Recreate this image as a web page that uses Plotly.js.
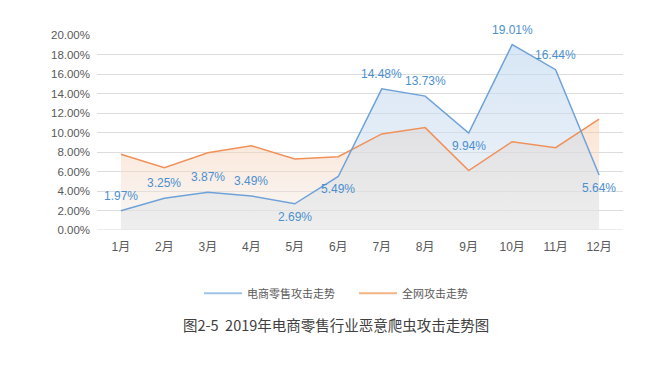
<!DOCTYPE html>
<html><head><meta charset="utf-8">
<script src="https://cdn.plot.ly/plotly-3.0.1.min.js"></script>
<style>html,body{margin:0;padding:0;background:#fff}#c{width:661px;height:368px}</style>
</head><body><div id="c"></div>
<script>
const months = ['1月','2月','3月','4月','5月','6月','7月','8月','9月','10月','11月','12月'];
const ecommerce = [1.97, 3.25, 3.87, 3.49, 2.69, 5.49, 14.48, 13.73, 9.94, 19.01, 16.44, 5.64];
const network = [7.76, 6.39, 7.93, 8.65, 7.28, 7.52, 9.85, 10.5, 6.09, 9.06, 8.44, 11.38];
const labelAbove = [true, true, true, true, false, false, true, true, false, true, true, false];
const yTicks = [0,2,4,6,8,10,12,14,16,18,20];
const seriesNames = ['电商零售攻击走势', '全网攻击走势'];

const FONT = 'Liberation Sans, Arial, Noto Sans CJK SC, sans-serif';
const CJK = 'Noto Sans CJK SC, sans-serif';

const traces = [
  { // orange fill
    x: months, y: network, type: 'scatter', mode: 'none', showlegend: false,
    fill: 'tozeroy',
    fillgradient: {type: 'vertical', start: 0, stop: 11.4,
      colorscale: [[0, 'rgba(238,238,238,0.45)'], [1, 'rgba(250,200,165,0.5)']]},
    hoverinfo: 'skip'
  },
  { // blue fill
    x: months, y: ecommerce, type: 'scatter', mode: 'none', showlegend: false,
    fill: 'tozeroy',
    fillgradient: {type: 'vertical', start: 0, stop: 19,
      colorscale: [[0, 'rgba(225,225,225,0.4)'], [0.5, 'rgba(205,222,240,0.55)'], [1, 'rgba(190,215,240,0.6)']]},
    hoverinfo: 'skip'
  },
  { x: months, y: network, type: 'scatter', mode: 'lines', showlegend: false,
    line: {color: '#f0915a', width: 1.5}, hoverinfo: 'skip' },
  { x: months, y: ecommerce, type: 'scatter', mode: 'lines', showlegend: false,
    line: {color: '#6fa2d8', width: 1.5}, hoverinfo: 'skip' },
  { x: [null], y: [null], type: 'scatter', mode: 'lines', name: seriesNames[0],
    line: {color: '#9dc3e6', width: 2}, legendrank: 1 },
  { x: [null], y: [null], type: 'scatter', mode: 'lines', name: seriesNames[1],
    line: {color: '#f4b183', width: 2}, legendrank: 2 }
];

const annotations = ecommerce.map((v, i) => ({
  x: months[i], y: v, xref: 'x', yref: 'y', text: v.toFixed(2) + '%',
  showarrow: false, xanchor: 'center', yanchor: 'middle',
  yshift: labelAbove[i] ? 15 : -13,
  font: {family: FONT, size: 12, color: '#4a90cf'}
}));
annotations.push({
  text: '图2-5&nbsp;&nbsp;2019年电商零售行业恶意爬虫攻击走势图', xref: 'paper', yref: 'paper',
  x: 0.454, y: -0.485, xanchor: 'center', yanchor: 'middle', showarrow: false,
  font: {family: CJK, size: 14.5, color: '#404040'}
});

const layout = {
  width: 661, height: 368,
  margin: {l: 97, r: 38, t: 35, b: 138},
  paper_bgcolor: '#fff', plot_bgcolor: '#fff',
  showlegend: true,
  legend: {orientation: 'h', x: 0.194, xanchor: 'left', y: -0.25, yanchor: 'top',
    font: {family: CJK, size: 11, color: '#595959'}, itemwidth: 38,
    entrywidth: 102, entrywidthmode: 'pixels'},
  xaxis: {
    type: 'category', range: [-0.55, 11.55], showgrid: false, zeroline: false,
    showline: false, ticks: '', ticklabelstandoff: 8,
    tickfont: {family: FONT, size: 12, color: '#595959'}, fixedrange: true
  },
  yaxis: {
    range: [0, 20], tickvals: yTicks, ticktext: yTicks.map(v => v.toFixed(2) + '%'),
    showgrid: true, gridcolor: '#dcdcdc', gridwidth: 1, zeroline: false,
    showline: false, ticks: '', ticklabelstandoff: 6,
    tickfont: {family: FONT, size: 11.5, color: '#595959'}, fixedrange: true
  },
  annotations: annotations,
  shapes: [{type:'line', xref:'paper', yref:'y', x0:0, x1:1, y0:0, y1:0, layer:'below', line:{color:'#d9d9d9', width:1}}]
};

Plotly.newPlot('c', traces, layout, {displayModeBar: false, staticPlot: true});
</script></body></html>
